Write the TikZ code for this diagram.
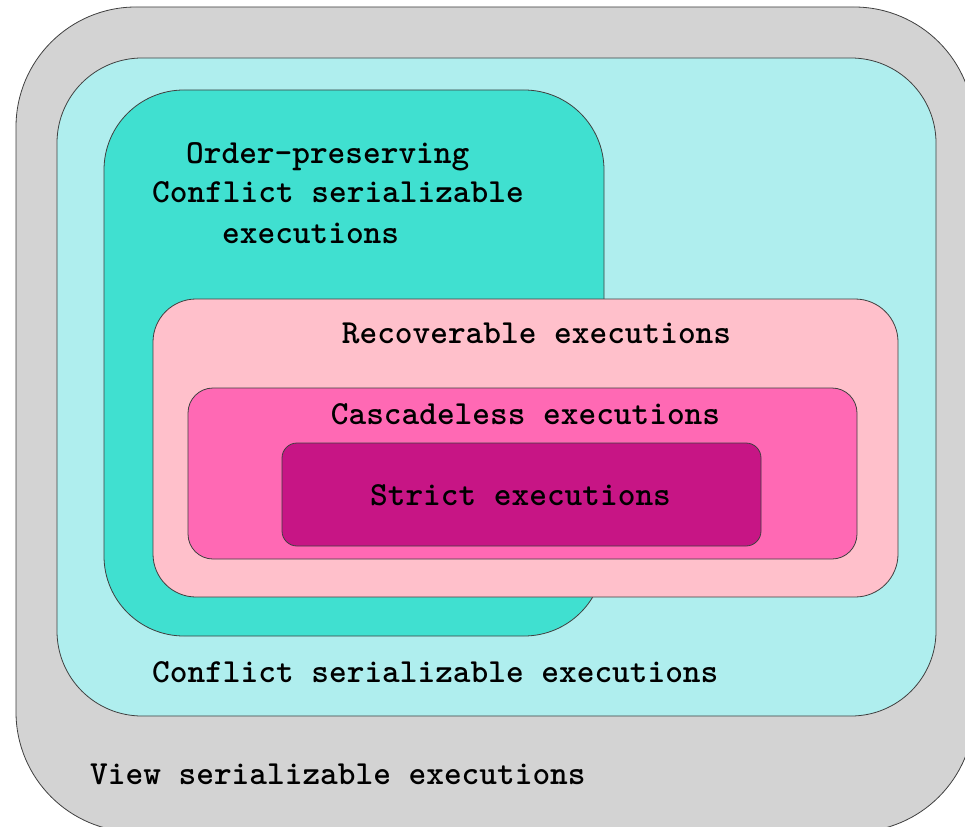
\documentclass[tikz,border=0pt]{standalone}
\usepackage{fontspec}
\begin{document}
\begin{tikzpicture}[x=1pt,y=-1pt,
  setbox/.style={draw=black!75,line width=0.8pt},
  lbl/.style={font=\ttfamily\bfseries\fontsize{33.7}{40.5}\selectfont,inner sep=0pt,text=black}]
\definecolor{cgray}{HTML}{D3D3D3}
\definecolor{cpale}{HTML}{AFEEEE}
\definecolor{cturq}{HTML}{40E0D0}
\definecolor{cpink}{HTML}{FFC0CB}
\definecolor{chot}{HTML}{FF69B4}
\definecolor{cviolet}{HTML}{C71585}
\useasboundingbox (0,0) rectangle (965,826);
\clip (0,0) rectangle (965,826);
\fill[white] (0,0) rectangle (965,826);
% boxes
\draw[setbox,fill=cgray,rounded corners=120pt] (16,7) rectangle (974,832);
\draw[setbox,fill=cpale,rounded corners=85pt] (57,58) rectangle (936,716);
\draw[setbox,fill=cturq,rounded corners=80pt] (104,90) rectangle (604,636);
\draw[setbox,fill=cpink,rounded corners=43pt] (153,299) rectangle (898,597);
\draw[setbox,fill=chot,rounded corners=25pt] (188,388) rectangle (857,559);
\draw[setbox,fill=cviolet,rounded corners=15pt] (282,443) rectangle (761,546);
% labels
\node[lbl,anchor=mid west] (op1) at (186,161) {Order-preserving};
\node[lbl,anchor=mid west] (op2) at (152,200) {Conflict serializable};
\node[lbl,anchor=mid west] (op3) at (222,241) {executions};
\node[lbl,anchor=mid] (rec) at (536.5,341) {Recoverable executions};
\node[lbl,anchor=mid] (cas) at (525.5,422) {Cascadeless executions};
\node[lbl,anchor=mid] (str) at (520.5,503) {Strict executions};
\node[lbl,anchor=mid west] (csr) at (152,680) {Conflict serializable executions};
\node[lbl,anchor=mid west] (vsr) at (90,782) {View serializable executions};
\end{tikzpicture}
\end{document}
